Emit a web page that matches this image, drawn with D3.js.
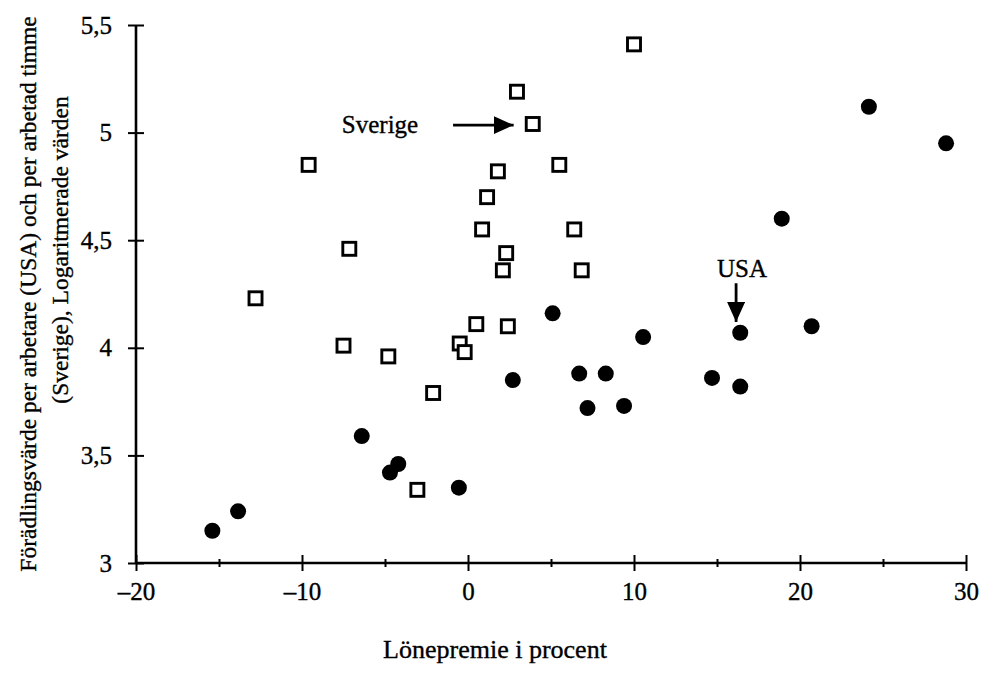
<!DOCTYPE html>
<html>
<head>
<meta charset="utf-8">
<script src="https://cdn.jsdelivr.net/npm/d3@7"></script>
<style>
  body { margin: 0; background: #fff; }
  text { font-family: "Liberation Serif", "Times New Roman", serif; fill: #000; stroke: #000; stroke-width: 0.35px; }
</style>
</head>
<body>
<div id="chart"></div>
<script>
// Sverige (open squares): lonepremie, log value
var sverigeX = [10.0, 2.95, 3.9, -9.6, 5.5, 1.8, 1.15, 0.85, 6.4, -7.15, 2.3,
                2.1, 6.85, -12.8, -7.5, 0.5, 2.4, -4.8, -0.5, -0.2, -2.1, -3.05];
var sverigeY = [5.41, 5.19, 5.04, 4.85, 4.85, 4.82, 4.70, 4.55, 4.55, 4.46, 4.44,
                4.36, 4.36, 4.23, 4.01, 4.11, 4.10, 3.96, 4.02, 3.98, 3.79, 3.34];

// USA (filled circles)
var usaX = [-15.4, -13.85, -6.4, -4.7, -4.2, -0.55, 5.1, 2.7, 6.7, 8.3, 7.2, 9.4,
            10.55, 16.4, 20.7, 14.7, 16.4, 24.15, 28.8, 18.9];
var usaY = [3.15, 3.24, 3.59, 3.42, 3.46, 3.35, 4.16, 3.85, 3.88, 3.88, 3.72, 3.73,
            4.05, 4.07, 4.10, 3.86, 3.82, 5.12, 4.95, 4.60];

var xTicks = [-20, -10, 0, 10, 20, 30];
var xMinorTicks = [-15, -5, 5, 15, 25];
var yTicks = [3, 3.5, 4, 4.5, 5, 5.5];

var xTitle = "Lönepremie i procent";
var yTitle = ["Förädlingsvärde per arbetare (USA) och per arbetad timme",
              "(Sverige), Logaritmerade värden"];

// annotations: label text + arrow (from -> to) in data units
var notes = [
    {label: "Sverige", lx: -3.0, ly: 5.0, anchor: "end", x1: -0.9, y1: 5.035, x2: 2.75, y2: 5.035},
    {label: "USA", lx: 15.0, ly: 4.33, anchor: "start", x1: 16.15, y1: 4.30, x2: 16.15, y2: 4.12}
];

var margin = {top: 25, right: 24, bottom: 115, left: 136};
var width = 990 - margin.left - margin.right,
    height = 678 - margin.top - margin.bottom;

var svg = d3.select("#chart").append("svg")
    .attr("width", 990)
    .attr("height", 678);

var g = svg.append("g")
    .attr("transform", "translate(" + margin.left + "," + margin.top + ")");

var x = d3.scaleLinear().domain([-20, 30]).range([0, width]);
var y = d3.scaleLinear().domain([3, 5.5]).range([height, 0]);

var fmt = function(d) { return String(d).replace(".", ",").replace("-", "\u2013"); };

// x axis
var xAxis = g.append("g")
    .attr("transform", "translate(0," + height + ")")
    .call(d3.axisBottom(x).tickValues(xTicks).tickSize(8).tickPadding(11).tickFormat(fmt));
xAxis.selectAll(".tick line").attr("y1", -8);

var xMinor = g.append("g")
    .attr("transform", "translate(0," + height + ")")
    .call(d3.axisBottom(x).tickValues(xMinorTicks).tickSize(4).tickFormat(""));
xMinor.selectAll(".tick line").attr("y1", -4);
xMinor.select(".domain").remove();

// y axis
var yAxis = g.append("g")
    .call(d3.axisLeft(y).tickValues(yTicks).tickSize(8).tickPadding(16).tickFormat(fmt));
yAxis.selectAll(".tick line").attr("x1", 8);

// plain domain lines without outer ticks
xAxis.select(".domain").attr("d", "M0,0H" + width);
yAxis.select(".domain").attr("d", "M0," + height + "V0");
g.selectAll(".domain").attr("stroke", "#000").attr("stroke-width", 2.6);

g.selectAll(".tick line").attr("stroke", "#000").attr("stroke-width", 2);
g.selectAll(".tick text")
    .style("font-size", "25px")
    .style("font-family", "Liberation Serif, serif");

// points
var usa = usaX.map(function(d, i) { return {x: d, y: usaY[i]}; });
var sve = sverigeX.map(function(d, i) { return {x: d, y: sverigeY[i]}; });

g.selectAll("circle.usa")
    .data(usa)
    .enter().append("circle")
    .attr("class", "usa")
    .attr("cx", function(d) { return x(d.x); })
    .attr("cy", function(d) { return y(d.y); })
    .attr("r", 8)
    .attr("fill", "#000");

var sq = 13;
g.selectAll("rect.sve")
    .data(sve)
    .enter().append("rect")
    .attr("class", "sve")
    .attr("x", function(d) { return x(d.x) - sq / 2; })
    .attr("y", function(d) { return y(d.y) - sq / 2; })
    .attr("width", sq)
    .attr("height", sq)
    .attr("fill", "#fff")
    .attr("stroke", "#000")
    .attr("stroke-width", 2.9);

// arrows
svg.append("defs").append("marker")
    .attr("id", "head")
    .attr("viewBox", "0 0 20 18")
    .attr("refX", 20).attr("refY", 9)
    .attr("markerWidth", 20).attr("markerHeight", 18)
    .attr("markerUnits", "userSpaceOnUse")
    .attr("orient", "auto")
    .append("path")
    .attr("d", "M0,0L20,9L0,18Z")
    .attr("fill", "#000");

g.selectAll("line.arrow")
    .data(notes)
    .enter().append("line")
    .attr("class", "arrow")
    .attr("x1", function(d) { return x(d.x1); })
    .attr("y1", function(d) { return y(d.y1); })
    .attr("x2", function(d) { return x(d.x2); })
    .attr("y2", function(d) { return y(d.y2); })
    .attr("stroke", "#000")
    .attr("stroke-width", 2.8)
    .attr("marker-end", "url(#head)");

g.selectAll("text.note")
    .data(notes)
    .enter().append("text")
    .attr("class", "note")
    .attr("x", function(d) { return x(d.lx); })
    .attr("y", function(d) { return y(d.ly); })
    .attr("text-anchor", function(d) { return d.anchor; })
    .style("font-size", "25px")
    .text(function(d) { return d.label; });

// axis titles
svg.append("text")
    .attr("x", 495)
    .attr("y", 658)
    .attr("text-anchor", "middle")
    .style("font-size", "26px")
    .text(xTitle);

svg.append("text")
    .attr("transform", "translate(36,294) rotate(-90)")
    .attr("text-anchor", "middle")
    .style("font-size", "23.5px")
    .text(yTitle[0]);

svg.append("text")
    .attr("transform", "translate(68,250) rotate(-90)")
    .attr("text-anchor", "middle")
    .style("font-size", "23.5px")
    .text(yTitle[1]);
</script>
</body>
</html>
